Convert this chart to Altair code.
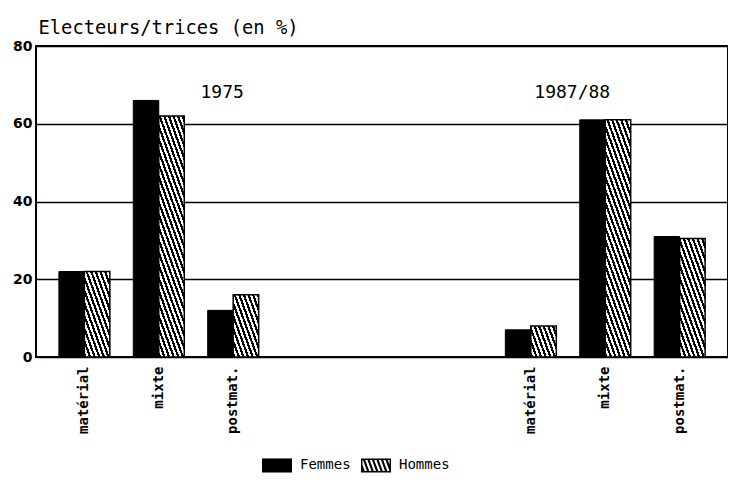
import math
import altair as alt
import pandas as pd

# ---------------- data ----------------
periods = ["1975", "1987/88"]
categories = ["matérial", "mixte", "postmat."]
sexes = ["Femmes", "Hommes"]
femmes_1975 = [22, 66, 12]
hommes_1975 = [22, 62, 16]
femmes_1987 = [7, 61, 31]
hommes_1987 = [8, 61, 30.5]
y_ticks = [0, 20, 40, 60, 80]
y_title = "Electeurs/trices (en %)"
year_anchor = ["postmat.", "mixte"]   # category over which each year label sits
year_level = [68, 68]                 # height of the year labels (in %)

# ---------------- layout / style ----------------
PLOT_W, PLOT_H = 692, 311
PAD_INNER, PAD_OUTER = 0.315, 0.3075
STEP = PLOT_W / (9 - PAD_INNER + 2 * PAD_OUTER)
BAR_W = STEP * (1 - PAD_INNER) / 2
HATCH_ANGLE = 70.0
HATCH_PERIOD = 4.6
HATCH_BLACK = 2.3
MONO = "DejaVu Sans Mono"
BOLD = "DejaVu Sans"

# slot keys: 3 categories, 3 empty gap slots, 3 categories
slots = [f"{periods[0]}|{c}" for c in categories] + ["gap1", "gap2", "gap3"] + \
        [f"{periods[1]}|{c}" for c in categories]

rows = []
for per, fem, hom in [(periods[0], femmes_1975, hommes_1975), (periods[1], femmes_1987, hommes_1987)]:
    for c, f, h in zip(categories, fem, hom):
        rows.append({"slot": f"{per}|{c}", "sex": sexes[0], "value": f})
        rows.append({"slot": f"{per}|{c}", "sex": sexes[1], "value": h})
df = pd.DataFrame(rows)

ann_df = pd.DataFrame({
    "slot": [f"{p}|{a}" for p, a in zip(periods, year_anchor)],
    "value": year_level,
    "label": periods,
})


def hatch_fill(value):
    """Linear gradient (bbox units) producing constant-angle diagonal stripes."""
    W = BAR_W
    H = value * PLOT_H / 80.0
    t = math.tan(math.radians(HATCH_ANGLE))
    g = H / (W * t)
    s = (1 + g) / (1 + g * g)
    L = W + H / t
    n = L / HATCH_PERIOD
    stops = []
    k = 0
    while k / n < 1:
        a = k / n
        b = min(1.0, (k + HATCH_BLACK / HATCH_PERIOD) / n)
        c = min(1.0, (k + 1) / n)
        stops += [(a, "black"), (b, "black"), (b, "white"), (c, "white")]
        k += 1
    return {
        "gradient": "linear",
        "x1": 0, "y1": 1, "x2": round(s, 5), "y2": round(1 - s * g, 5),
        "stops": [{"offset": round(o, 5), "color": col} for o, col in stops],
    }


def clip(poly, xmin, xmax, ymin, ymax):
    def cut(pts, inside, inter):
        out = []
        for i in range(len(pts)):
            p, q = pts[i - 1], pts[i]
            if inside(q):
                if not inside(p):
                    out.append(inter(p, q))
                out.append(q)
            elif inside(p):
                out.append(inter(p, q))
        return out

    def ix(x0):
        return lambda p, q: (x0, p[1] + (q[1] - p[1]) * (x0 - p[0]) / (q[0] - p[0]))

    def iy(y0):
        return lambda p, q: (p[0] + (q[0] - p[0]) * (y0 - p[1]) / (q[1] - p[1]), y0)

    pts = poly
    pts = cut(pts, lambda p: p[0] >= xmin, ix(xmin)) if pts else pts
    pts = cut(pts, lambda p: p[0] <= xmax, ix(xmax)) if pts else pts
    pts = cut(pts, lambda p: p[1] >= ymin, iy(ymin)) if pts else pts
    pts = cut(pts, lambda p: p[1] <= ymax, iy(ymax)) if pts else pts
    return pts


def hatched_symbol():
    hy = 0.47
    e = 0.1
    path = f"M-1,-{hy}H1V{hy}H-1Z M{-1+e},{-hy+e}V{hy-e}H{1-e}V{-hy+e}Z "
    xmin, xmax, ymin, ymax = -1 + e, 1 - e, -hy + e, hy - e
    t = math.tan(math.radians(HATCH_ANGLE))
    dx = (ymax - ymin) / t
    per, blk = 0.3, 0.15
    c = xmin - dx - per
    while c < xmax:
        quad = [(c, ymin), (c + blk, ymin), (c + blk + dx, ymax), (c + dx, ymax)]
        pts = clip(quad, xmin, xmax, ymin, ymax)
        if len(pts) >= 3:
            path += "M" + "L".join(f"{x:.3f},{y:.3f}" for x, y in pts) + "Z "
        c += per
    return path.strip()


SOLID_SYMBOL = "M-1,-0.47H1V0.47H-1Z"

# ---------------- encodings ----------------
x_enc = alt.X(
    "slot:N",
    scale=alt.Scale(domain=slots, paddingInner=PAD_INNER, paddingOuter=PAD_OUTER),
    axis=alt.Axis(
        title=None, labelAngle=-90, ticks=False, domain=False, grid=False,
        labelPadding=9, labelFont=MONO, labelFontSize=14, labelFontWeight="bold",
        labelColor="black",
        labelExpr="indexof(datum.value, '|') >= 0 ? split(datum.value, '|')[1] : ''",
    ),
)
y_enc = alt.Y(
    "value:Q",
    scale=alt.Scale(domain=[0, 80], nice=False, zero=True),
    axis=alt.Axis(
        values=y_ticks, ticks=False, domain=False, grid=True,
        gridColor="black", gridWidth=1.5, gridOpacity=1,
        labelFont=BOLD, labelFontWeight="bold", labelFontSize=14, labelColor="black",
        labelPadding=4,
        title=y_title, titleAngle=0, titleAlign="left", titleBaseline="alphabetic",
        titleX=2, titleY=-13, titleFont=MONO, titleFontSize=18.8,
        titleFontWeight="normal", titleColor="black",
    ),
)
xo_enc = alt.XOffset("sex:N", scale=alt.Scale(domain=sexes, paddingInner=0, paddingOuter=0))

layers = []
layers.append(
    alt.Chart(df).transform_filter(alt.datum.sex == sexes[0])
    .mark_bar(fill="black", stroke="black", strokeWidth=1)
    .encode(x=x_enc, xOffset=xo_enc, y=y_enc)
)
for r in rows:
    if r["sex"] != sexes[1]:
        continue
    layers.append(
        alt.Chart(df)
        .transform_filter((alt.datum.sex == sexes[1]) & (alt.datum.slot == r["slot"]))
        .mark_bar(fill=hatch_fill(r["value"]), stroke="black", strokeWidth=1.5)
        .encode(x=x_enc, xOffset=xo_enc, y=y_enc)
    )

for lab, dx in zip(periods, [-11, -33]):
    layers.append(
        alt.Chart(ann_df).transform_filter(alt.datum.label == lab)
        .mark_text(font=MONO, fontSize=18, color="black", dx=dx, baseline="middle")
        .encode(x=x_enc, y=y_enc, text="label:N")
    )

# legend carrier (no visible marks)
layers.append(
    alt.Chart(df).transform_filter("false")
    .mark_point(filled=True, color="black", opacity=1)
    .encode(
        shape=alt.Shape(
            "sex:N",
            scale=alt.Scale(domain=sexes, range=[SOLID_SYMBOL, hatched_symbol()]),
            legend=alt.Legend(
                title=None, orient="none", direction="horizontal",
                legendX=226, legendY=404,
                symbolSize=900, symbolFillColor="black", symbolStrokeWidth=0,
                symbolOpacity=1, labelFont=MONO, labelFontSize=14,
                labelColor="black", labelOffset=8, columnPadding=10,
            ),
        )
    )
)

chart = alt.layer(*layers, data=df).properties(
    width=PLOT_W, height=PLOT_H,
    padding={"left": 28, "top": 38, "right": 0, "bottom": 117},
    autosize=alt.AutoSizeParams(type="none"),
    background="white",
).configure_view(stroke="black", strokeWidth=2)

chart.save("out.html", embed_options={"renderer": "svg", "actions": False})
